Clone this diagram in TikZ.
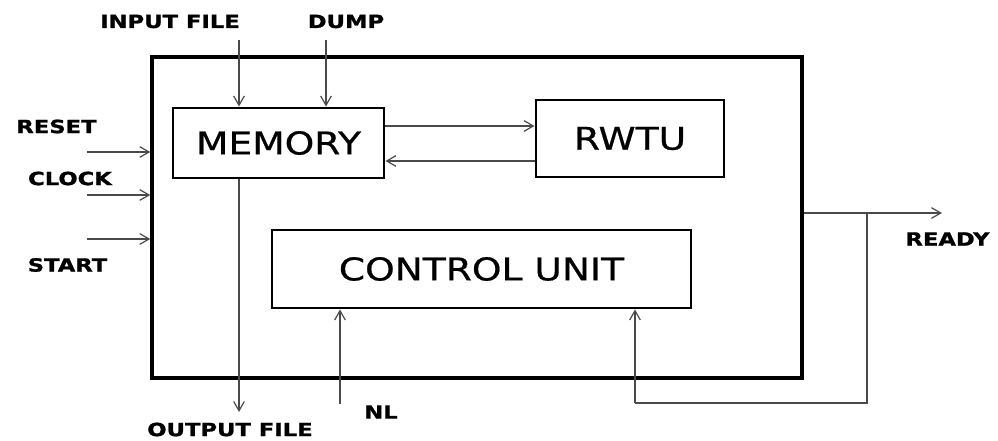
\documentclass[tikz,border=0pt]{standalone}
\usepackage{fontspec}
\usetikzlibrary{arrows.meta, calc}
\newfontfamily\lblfont{DejaVu Sans Bold}[FakeStretch=1.25, FakeBold=1.2]
\newfontfamily\boxfont{DejaVu Sans}[FakeStretch=1.2, FakeBold=0.6]
\definecolor{wire}{HTML}{4A4A4A}

\begin{document}
\begin{tikzpicture}[x=0.75pt, y=-0.75pt,
  block/.style={draw, line width=2.2pt, inner sep=0pt, font=\boxfont\fontsize{23.5}{26}\selectfont},
  lbl/.style={inner sep=0pt, font=\lblfont\fontsize{13.6}{15}\selectfont},
  sig/.style={draw=wire, line width=0.9pt, -{Straight Barb[length=7pt, width=8pt]}},
  wireline/.style={draw=wire, line width=0.9pt}]
  \useasboundingbox (0,0) rectangle (998,441);

  % Outer system box
  \node[draw, line width=2.6pt, minimum width=487.5pt, minimum height=240.75pt] (sys) at (477,217.5) {};

  % Inner blocks
  \node[block, minimum width=158.25pt, minimum height=52.5pt] (mem) at (278.5,143) {MEMORY};
  \node[block, minimum width=141pt, minimum height=57.75pt] (rw) at (630,138.5) {RWTU};
  \node[block, minimum width=314.25pt, minimum height=58.5pt] (ctl) at (481.5,269) {CONTROL UNIT};

  % Labels
  \node[lbl] (inlbl) at (170,21.5) {INPUT FILE};
  \node[lbl] (dmlbl) at (346,21.5) {DUMP};
  \node[lbl] (rslbl) at (56.5,126.5) {RESET};
  \node[lbl] (cklbl) at (70,178.5) {CLOCK};
  \node[lbl] (stlbl) at (67.5,265) {START};
  \node[lbl] (oflbl) at (230,429.5) {OUTPUT FILE};
  \node[lbl] (nllbl) at (381,412) {NL};
  \node[lbl] (rdlbl) at (947.5,239) {READY};

  % Free ends of the connectors
  \coordinate (inA) at (239,40);
  \coordinate (dmA) at (326,40);
  \coordinate (rsA) at (87,152);
  \coordinate (ckA) at (87,195);
  \coordinate (stA) at (87,239);
  \coordinate (ofA) at (239,412);
  \coordinate (nlA) at (340,404);
  \coordinate (rdA) at (942,213);
  \coordinate (fbA) at (867,403);
  \coordinate (fbB) at (635,403);
  \coordinate (mwA) at ($(mem.east)+(0,-17)$);
  \coordinate (wmA) at ($(mem.east)+(0,18)$);

  % Inputs
  \draw[sig] (inA) -- (inA |- mem.north);
  \draw[sig] (dmA) -- (dmA |- mem.north);
  \draw[sig] (rsA) -- (rsA -| sys.west);
  \draw[sig] (ckA) -- (ckA -| sys.west);
  \draw[sig] (stA) -- (stA -| sys.west);
  \draw[sig] (nlA) -- (nlA |- ctl.south);

  % Memory <-> RWTU
  \draw[sig] (mwA) -- (mwA -| rw.west);
  \draw[sig] (wmA -| rw.west) -- (wmA);

  % Outputs
  \draw[sig] (ofA |- mem.south) -- (ofA);
  \draw[sig] (rdA -| sys.east) -- (rdA);
  \draw[wireline] (fbA |- rdA) -- (fbA) -- (fbB);
  \draw[sig] (fbB) -- (fbB |- ctl.south);
\end{tikzpicture}
\end{document}
